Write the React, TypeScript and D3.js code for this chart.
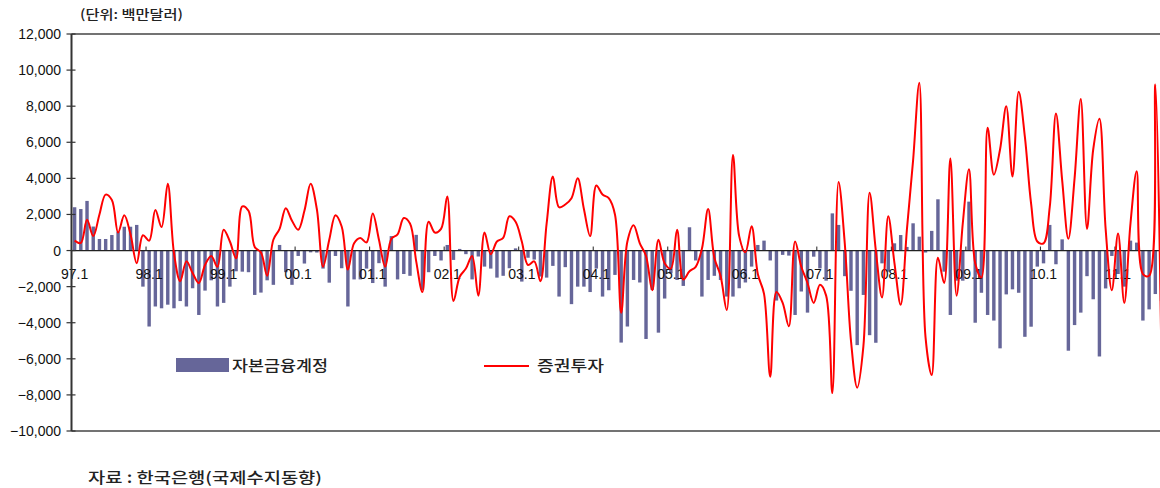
import React from "react";
import * as d3 from "d3";

// ---- data (monthly, 97.1 ~ ) ----
const startYear = 1997;
const monthCount = 180;
const yearTickLabels = ["97.1","98.1","99.1","00.1","01.1","02.1","03.1","04.1","05.1","06.1","07.1","08.1","09.1","10.1","11.1"];
const yTicks = [-10000,-8000,-6000,-4000,-2000,0,2000,4000,6000,8000,10000,12000];

// 자본금융계정 (bars)
const capitalAccount = [
  2400,2300,2750,1330,640,640,860,1050,1320,1320,1420,-2000,
  -4210,-3100,-3200,-3000,-3200,-2800,-3100,-2090,-3570,-2220,-1650,-3100,
  -2900,-2000,-1150,-1170,-1200,-2460,-2330,-1650,-1900,310,-1200,-1900,
  -300,-720,-100,-110,-1000,-1780,-300,-980,-3100,-1600,-1600,-1000,
  -1800,-700,-2000,800,-1600,-1300,-1400,870,-2180,-1200,-300,-550,
  310,-520,90,-200,-1600,-330,-890,-1000,-1500,-1400,-980,120,
  -1720,-400,-500,-1440,-1500,-850,-2550,-920,-2970,-2000,-2000,-2300,
  -1000,-2550,-2200,-1350,-5100,-4210,-1630,-1770,-4900,-2180,-4550,-2660,
  -1260,-1630,-1960,1290,-550,-2550,-1630,-1400,-1630,-2550,-2550,-2090,
  -1770,-890,310,550,-550,-2770,-240,-280,-3570,-2270,-3440,-340,
  -990,-1670,2060,1420,-1420,-2230,-5240,-2460,-4690,-5110,-710,-1170,
  400,860,200,1510,770,-110,1090,2840,-1170,-3570,-1670,-1670,
  2710,-4000,-2340,-3570,-3880,-5420,-2430,-2150,-2340,-4780,-4220,-890,
  -710,1420,-760,620,-5550,-4130,-3440,-1420,-2700,-5870,-2100,-300,
  -1300,-2000,550,440,-3880,-3260,-2410,-2800
];

// 증권투자 (line)
const portfolioInvestment = [
  550,420,1700,800,2000,3100,2800,1000,1950,900,-700,850,
  550,2250,1300,3700,-150,-1700,-600,-1250,-1800,-800,-300,-900,
  1150,500,-430,2450,2200,200,-100,-1400,600,1200,2350,1650,
  1150,2200,3700,2300,-900,600,1950,1330,-1050,400,700,450,
  2050,600,-900,650,900,1800,1500,-600,-2300,1600,1000,1200,
  3000,-2800,-1450,-1000,-300,-2500,1000,-200,500,700,1900,1600,
  500,-800,-600,-1700,1500,4100,2400,2550,2900,4000,2300,800,
  3600,3100,2900,2000,-3450,500,1400,400,-300,-2200,600,-700,
  -1000,1150,-1600,-1150,-900,100,2300,-400,-1400,-3300,5300,800,
  -100,1350,-1300,-2400,-7000,-2300,-2900,-4200,500,-900,-1800,-2900,
  -1900,-2500,-7900,3800,400,-5000,-7600,-5300,3200,0,-2600,1900,
  -700,-3000,1150,5000,9300,-4800,-6900,-400,-1800,5100,-2500,1500,
  4500,-700,-1500,6800,4200,5600,8000,4100,8800,6300,2600,500,
  400,2400,7600,3900,650,4000,8400,1200,5600,7300,1200,-2200,
  950,-2900,1500,4400,-1300,-1400,9200,-6500
];

const W = 1160, H = 488;
const plotLeft = 71.5, plotTop = 34, plotBottom = 431;
const step = 6.211;

export default function App() {
  const months = d3.range(monthCount).map((i) => {
    const yy = (startYear + Math.floor(i / 12)) % 100;
    return `${String(yy).padStart(2, "0")}.${(i % 12) + 1}`;
  });
  const x = d3.scaleBand<string>()
    .domain(months)
    .range([plotLeft, plotLeft + step * monthCount])
    .paddingInner(0.45)
    .paddingOuter(0.225);
  const y = d3.scaleLinear().domain([-10000, 12000]).range([plotBottom, plotTop]);
  const cx = (i: number) => (x(months[i]) as number) + x.bandwidth() / 2;

  const line = d3.line<number>()
    .x((_, i) => cx(i))
    .y((d) => y(d))
    .curve(d3.curveCatmullRom.alpha(0.5));

  const numFont = "'Liberation Sans', Arial, sans-serif";
  const krFont = "'Noto Sans CJK KR', 'Noto Sans', sans-serif";
  const fmt = (v: number) => (v < 0 ? "\u2212" : "") + d3.format(",")(Math.abs(v));

  return (
    <svg width={W} height={H} style={{ position: "absolute", left: 0, top: 0, background: "#fff" }}>
      <rect x={0} y={0} width={W} height={H} fill="#fff" />
      {/* unit */}
      <text x={80} y={19} fontFamily={krFont} fontSize={13} fontWeight={500} fill="#222"
        textLength={103} lengthAdjust="spacingAndGlyphs">(단위: 백만달러)</text>

      {/* frame */}
      <line x1={plotLeft} x2={W} y1={plotTop} y2={plotTop} stroke="#444" strokeWidth={1.5} />
      <line x1={plotLeft} x2={W} y1={plotBottom} y2={plotBottom} stroke="#444" strokeWidth={1.5} />

      {/* bars */}
      {capitalAccount.map((v, i) => (
        <rect key={i} x={x(months[i])} width={x.bandwidth()}
          y={y(Math.max(0, v))} height={Math.abs(y(v) - y(0))} fill="#666699" />
      ))}

      {/* zero line */}
      <line x1={plotLeft} x2={W} y1={y(0)} y2={y(0)} stroke="#222" strokeWidth={1.2} />
      {yearTickLabels.map((lab) => {
        const i = months.indexOf(lab);
        const bx = (x(months[i]) as number) - (x.step() * 0.45) / 2;
        return (
          <g key={lab}>
            <line x1={bx} x2={bx} y1={y(0)} y2={y(0) - 4} stroke="#222" strokeWidth={1} />
            <text x={cx(i)} y={279} textAnchor="middle" fontFamily={numFont} fontSize={14} fill="#111">{lab}</text>
          </g>
        );
      })}

      {/* line */}
      <path d={line(portfolioInvestment) || ""} fill="none" stroke="#ff0000" strokeWidth={2} strokeLinejoin="round" />

      {/* y axis */}
      <line x1={plotLeft} x2={plotLeft} y1={plotTop} y2={plotBottom} stroke="#333" strokeWidth={2} />
      {yTicks.map((t) => (
        <g key={t}>
          <line x1={plotLeft - 5} x2={plotLeft + 4} y1={y(t)} y2={y(t)} stroke="#333" strokeWidth={1.2} />
          <text x={61} y={y(t) + 5} textAnchor="end" fontFamily={numFont} fontSize={14} fill="#111">{fmt(t)}</text>
        </g>
      ))}

      {/* legend */}
      <rect x={176} y={358} width={53} height={14} fill="#666699" />
      <text x={232} y={371} fontFamily={krFont} fontSize={15} fontWeight={500} fill="#222"
        textLength={96} lengthAdjust="spacingAndGlyphs">자본금융계정</text>
      <line x1={484} x2={529} y1={366} y2={366} stroke="#ff0000" strokeWidth={2} />
      <text x={537} y={371} fontFamily={krFont} fontSize={15} fontWeight={500} fill="#222"
        textLength={67} lengthAdjust="spacingAndGlyphs">증권투자</text>

      {/* source */}
      <text x={88} y={483} fontFamily={krFont} fontSize={15} fontWeight={500} fill="#222"
        textLength={234} lengthAdjust="spacingAndGlyphs">자료 : 한국은행(국제수지동향)</text>
    </svg>
  );
}
